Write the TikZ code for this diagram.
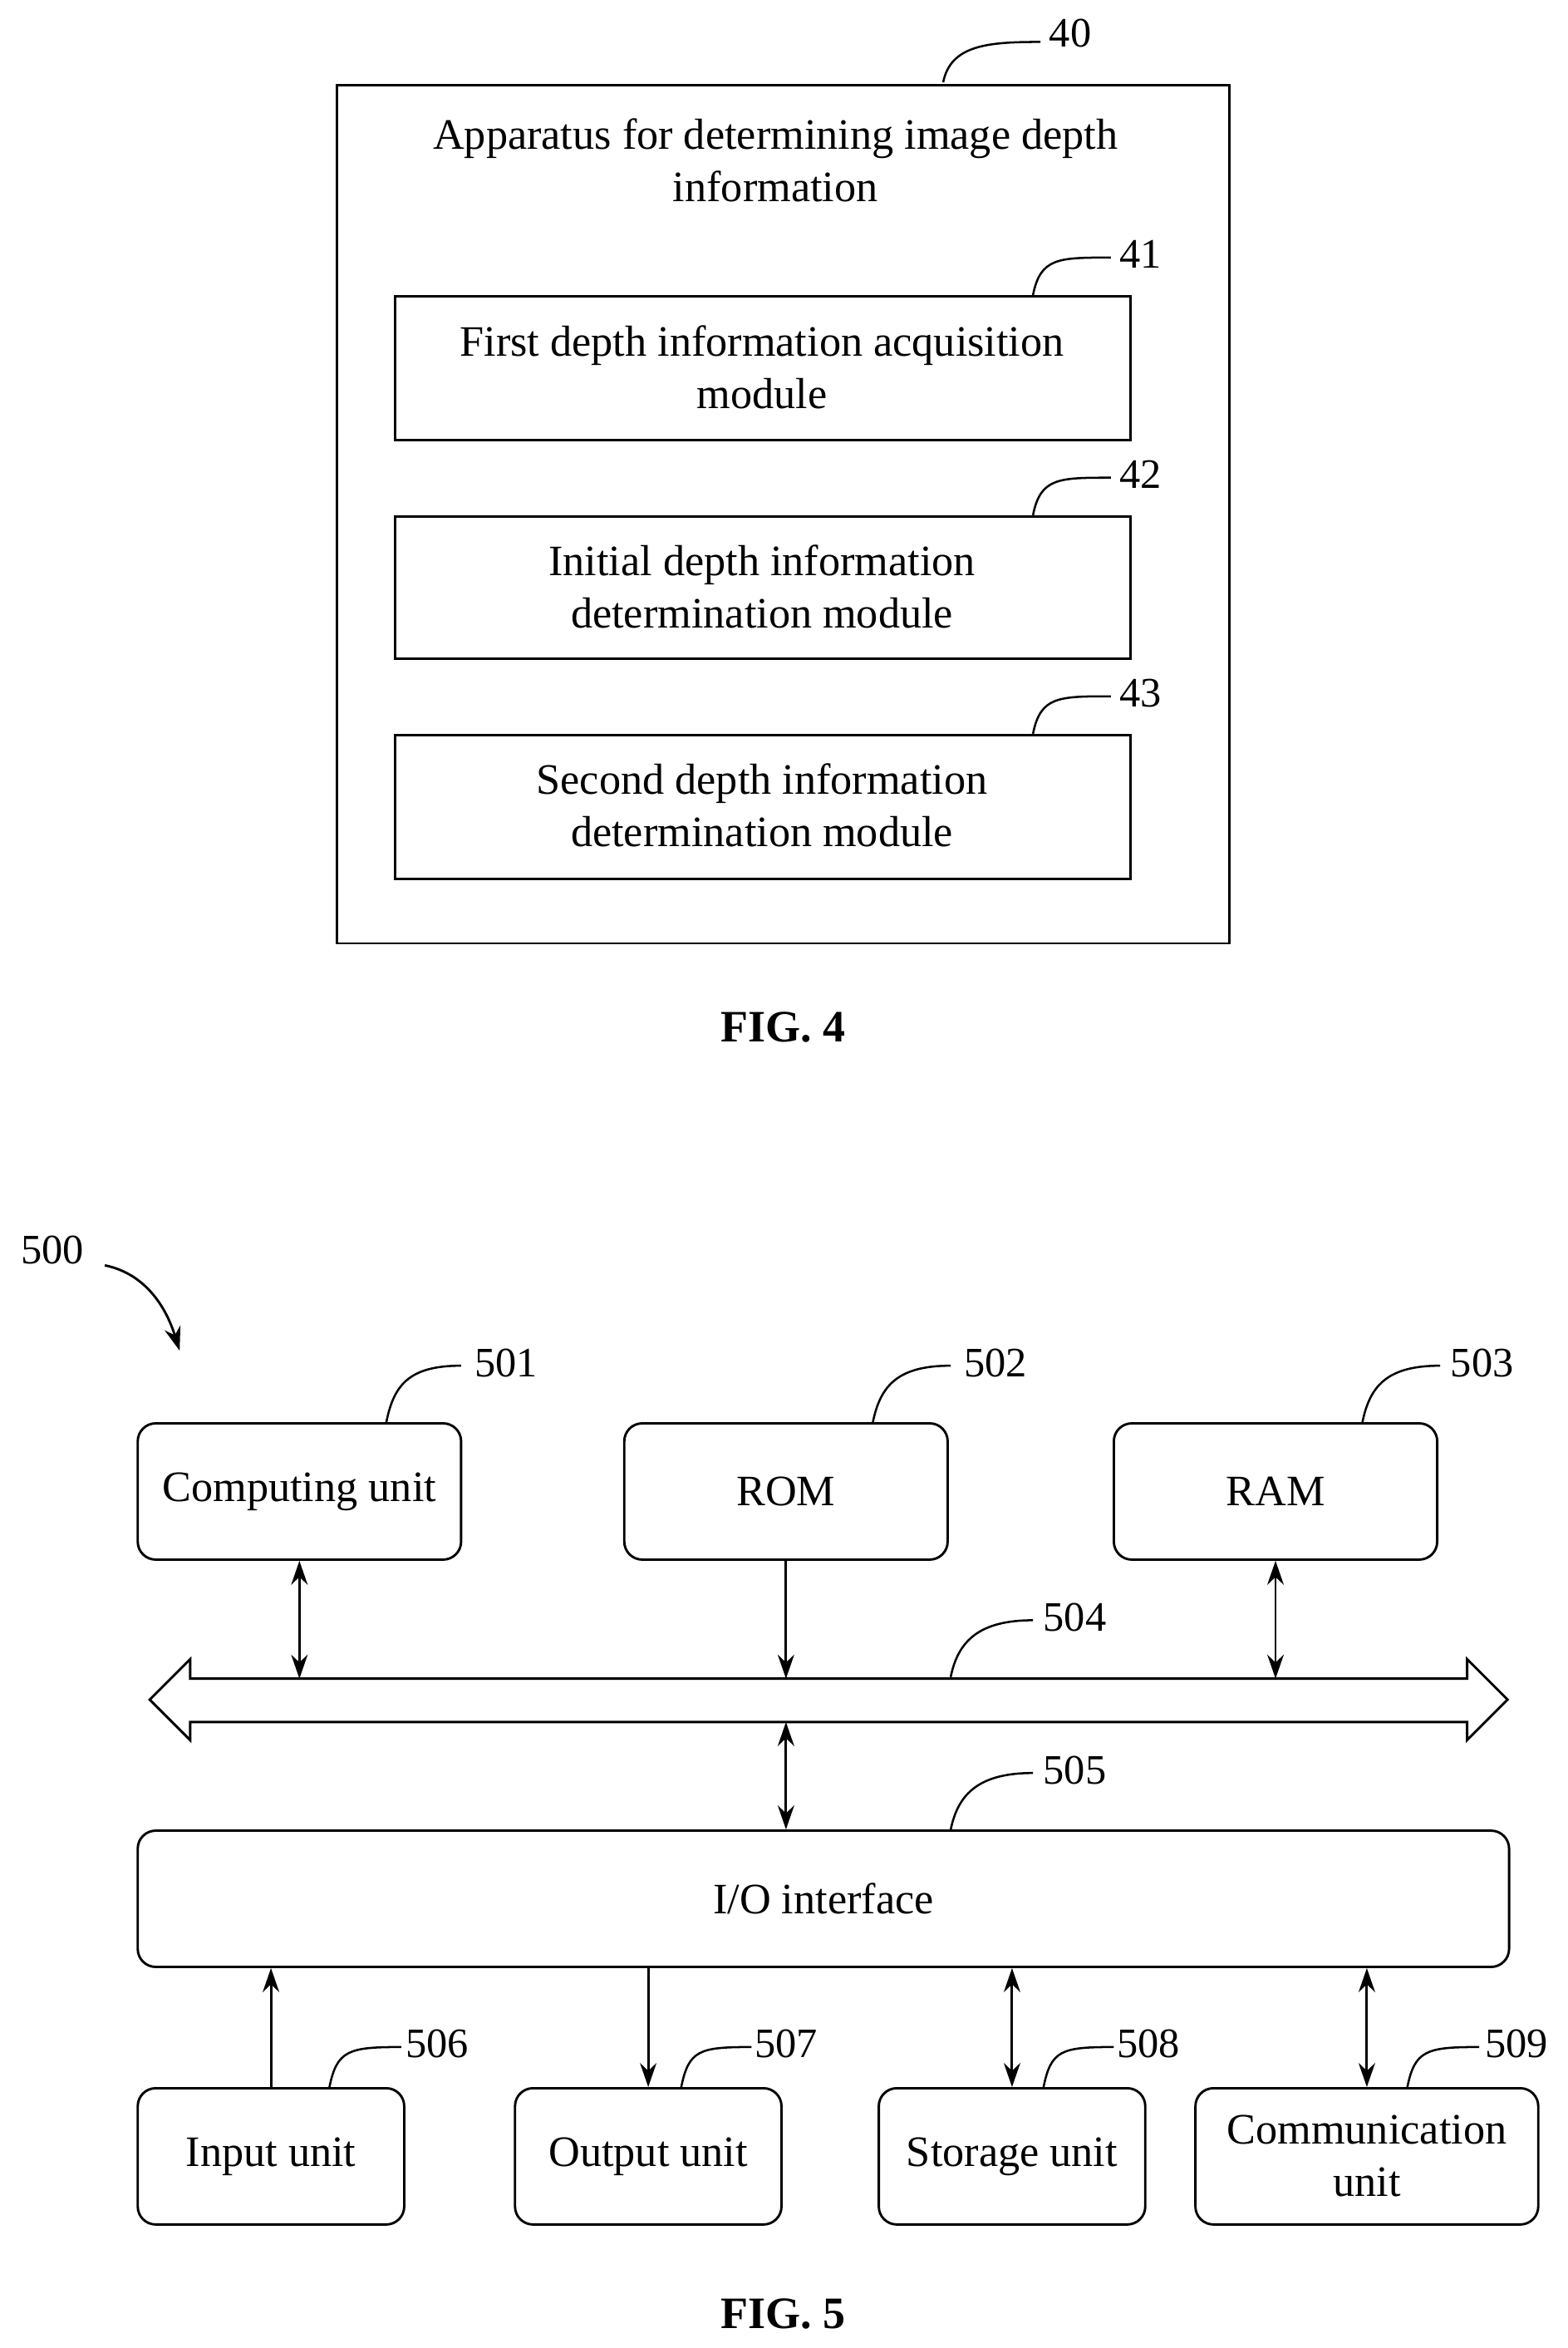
\documentclass[tikz,border=0pt]{standalone}
\usepackage{fontspec}
\setmainfont{Liberation Serif}
\usetikzlibrary{arrows.meta}
\begin{document}
\begin{tikzpicture}[x=1pt,y=-1pt,line width=1.6pt,
  txt/.style={font=\fontsize{29}{35}\selectfont,align=center,inner sep=0},
  lbl/.style={font=\fontsize{28}{34}\selectfont,inner sep=0},
  figcap/.style={font=\fontsize{30}{36}\selectfont\bfseries,inner sep=0},
  rbox/.style={draw,rounded corners=12pt},
  ar/.style={-{Stealth[length=16pt,width=11pt]}},
  dar/.style={{Stealth[length=16pt,width=11pt]}-{Stealth[length=16pt,width=11pt]}}]
\useasboundingbox (0,0) rectangle (1047,1568);
\newcommand\lead[4]{\draw[line width=1.4pt] (#1,#2) .. controls (#1+5,#2-25) and (#3-35,#4) .. (#3,#4);}
% FIG 4
\draw (225,57) rectangle (821,630);
\node[txt] (t40) at (518,107) {Apparatus for determining image depth\\information};
\node[lbl] (n40) at (715,22) {40};
\lead{630}{55}{695}{28}
\draw (264,198) rectangle (755,294);
\node[txt] (m41) at (509,245) {First depth information acquisition\\module};
\node[lbl] (n41) at (762,170) {41};
\lead{690}{197}{742}{172}
\draw (264,345) rectangle (755,440);
\node[txt] (m42) at (509,392) {Initial depth information\\determination module};
\node[lbl] (n42) at (762,317) {42};
\lead{690}{344}{742}{319}
\draw (264,491) rectangle (755,587);
\node[txt] (m43) at (509,538) {Second depth information\\determination module};
\node[lbl] (n43) at (762,463) {43};
\lead{690}{490}{742}{465}
\node[figcap] (f4) at (523,686) {FIG. 4};
% FIG 5
\node[lbl] (n500) at (35,835) {500};
\draw[ar] (70,845) .. controls (95,850) and (110,870) .. (120,902);
\node[rbox,minimum width=216pt,minimum height=91pt,txt] (cu) at (200,996) {Computing unit};
\node[rbox,minimum width=216pt,minimum height=91pt,txt] (rom) at (525,996) {ROM};
\node[rbox,minimum width=216pt,minimum height=91pt,txt] (ram) at (852,996) {RAM};
\node[lbl] (n501) at (338,910) {501}; \lead{258}{950}{308}{912}
\node[lbl] (n502) at (665,910) {502}; \lead{583}{950}{635}{912}
\node[lbl] (n503) at (990,910) {503}; \lead{910}{950}{962}{912}
% bus
\draw (100,1135) -- (127,1108) -- (127,1121) -- (980,1121) -- (980,1108) -- (1007,1135) -- (980,1162) -- (980,1150) -- (127,1150) -- (127,1162) -- cycle;
\coordinate (b1) at (200,1121); \coordinate (b2) at (525,1121); \coordinate (b3) at (852,1121); \coordinate (b4) at (525,1150);
\node[lbl] (n504) at (718,1080) {504}; \lead{635}{1120}{690}{1082}
\draw[dar] (cu.south) -- (b1);
\draw[ar] (rom.south) -- (b2);
\draw[dar] (ram.south) -- (b3);
\node[rbox,minimum width=916pt,minimum height=91pt,txt] (io) at (550,1268) {I/O interface};
\draw[dar] (b4) -- (io.north -| b4);
\node[lbl] (n505) at (718,1182) {505}; \lead{635}{1222}{690}{1184}
\node[rbox,minimum width=178pt,minimum height=91pt,txt] (in) at (181,1440) {Input unit};
\node[rbox,minimum width=178pt,minimum height=91pt,txt] (out) at (433,1440) {Output unit};
\node[rbox,minimum width=178pt,minimum height=91pt,txt] (st) at (676,1440) {Storage unit};
\node[rbox,minimum width=229pt,minimum height=91pt,txt] (com) at (913,1440) {Communication\\unit};
\draw[ar] (in.north) -- (in.north |- io.south);
\draw[ar] (out.north |- io.south) -- (out.north);
\draw[dar] (st.north) -- (st.north |- io.south);
\draw[dar] (com.north) -- (com.north |- io.south);
\node[lbl] (n506) at (292,1365) {506}; \lead{220}{1394}{268}{1367}
\node[lbl] (n507) at (525,1365) {507}; \lead{455}{1394}{502}{1367}
\node[lbl] (n508) at (767,1365) {508}; \lead{697}{1394}{744}{1367}
\node[lbl] (n509) at (1013,1365) {509}; \lead{940}{1394}{988}{1367}
\node[figcap] (f5) at (523,1545) {FIG. 5};
\end{tikzpicture}
\end{document}
